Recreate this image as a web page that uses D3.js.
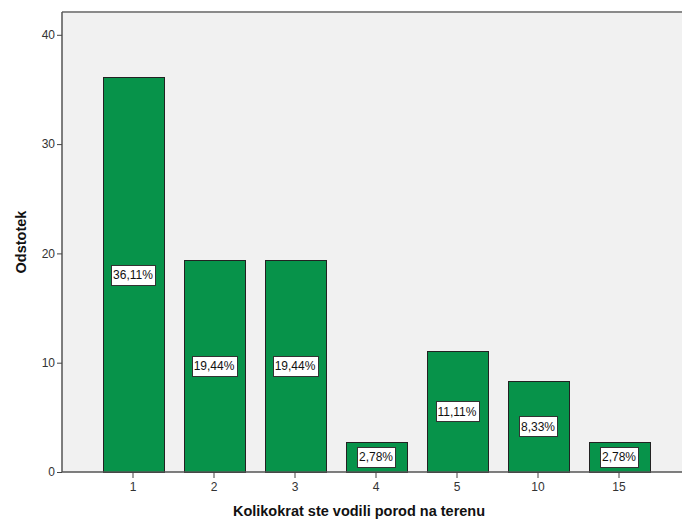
<!DOCTYPE html>
<html><head><meta charset="utf-8">
<script src="https://cdn.jsdelivr.net/npm/d3@7"></script>
<style>body{margin:0;background:#fff;}svg{display:block;font-family:Arial,"Liberation Sans",sans-serif;}</style>
</head><body><svg id="c" width="682" height="522"></svg>
<script>
const categories = ["1","2","3","4","5","10","15"];
const percents = [36.11, 19.44, 19.44, 2.78, 11.11, 8.33, 2.78];
const labels = ["36,11%","19,44%","19,44%","2,78%","11,11%","8,33%","2,78%"];
const yTicks = [0,10,20,30,40];

const svg = d3.select("#c");
const L = 62, T = 12, R = 690, B = 472;
const x = d3.scaleBand().domain(categories).range([92.5, 659.5]).paddingInner(20/81).paddingOuter(20/81/2);
const y = d3.scaleLinear().domain([0,40]).range([B, 34.8]);

svg.append("rect").attr("x",L).attr("y",T).attr("width",R-L).attr("height",B-T).attr("fill","#f1f1f1");
svg.append("line").attr("x1",L).attr("x2",R).attr("y1",T).attr("y2",T).attr("stroke","#8a8a8a").attr("stroke-width",2);

const bars = svg.append("g");
bars.selectAll("rect").data(percents).join("rect")
  .attr("x",(d,i)=>Math.round(x(categories[i]))+0.5)
  .attr("width",Math.round(x.bandwidth()))
  .attr("y",d=>Math.round(y(d))+0.5)
  .attr("height",d=>B-Math.round(y(d)))
  .attr("fill","#07934a").attr("stroke","#222").attr("stroke-width",1);

const yAxis = svg.append("g").attr("transform",`translate(${L},0)`)
  .call(d3.axisLeft(y).tickValues(yTicks).tickSize(5).tickPadding(2));
const xAxis = svg.append("g").attr("transform",`translate(0,${B})`)
  .call(d3.axisBottom(x).tickSize(6).tickPadding(4));
[yAxis,xAxis].forEach(a=>{
  a.select(".domain").attr("stroke","#555").attr("stroke-width",1.5);
  a.selectAll(".tick line").attr("stroke","#444");
  a.selectAll(".tick text").attr("fill","#333").style("font-size","12px").style("font-family","Arial,'Liberation Sans',sans-serif");
});
xAxis.select(".domain").attr("d",`M${L},0H${R}`);
yAxis.select(".domain").attr("d",`M0,${T}V${B}`);

const lg = svg.append("g");
percents.forEach((d,i)=>{
  const cx = x(categories[i]) + x.bandwidth()/2;
  const cy = (y(d)+B)/2;
  const t = lg.append("text").attr("x",cx).attr("y",cy+4.5).attr("text-anchor","middle")
    .style("font-size","12px").attr("fill","#111").text(labels[i]);
  const bb = t.node().getBBox();
  lg.insert("rect","text").attr("x",Math.round(bb.x-2)+0.5).attr("y",Math.round(cy-10)+0.5)
    .attr("width",Math.round(bb.width+4)).attr("height",20)
    .attr("fill","#fff").attr("stroke","#333").attr("stroke-width",1);
});

svg.append("text").attr("transform",`translate(26,${(T+B)/2}) rotate(-90)`).attr("text-anchor","middle")
  .style("font-size","14.5px").style("font-weight","bold").attr("fill","#111").text("Odstotek");
svg.append("text").attr("x",359).attr("y",516).attr("text-anchor","middle")
  .style("font-size","14.5px").style("font-weight","bold").attr("fill","#111").text("Kolikokrat ste vodili porod na terenu");
</script></body></html>
